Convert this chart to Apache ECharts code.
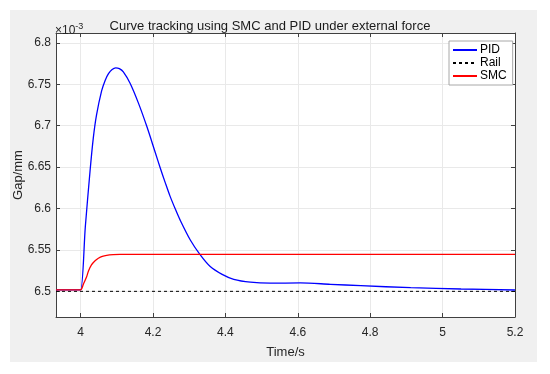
<!DOCTYPE html>
<html>
<head>
<meta charset="utf-8">
<script src="https://cdn.jsdelivr.net/npm/echarts@6/dist/echarts.min.js"></script>
<style>
html,body{margin:0;padding:0;background:#fff;}
#chart{width:550px;height:374px;}
</style>
</head>
<body>
<div id="chart"></div>
<script>
// ---- data ----
const pidTime = [3.932, 3.990, 4.000, 4.013, 4.026, 4.035, 4.044, 4.058, 4.068, 4.077, 4.087, 4.097, 4.107, 4.118, 4.137, 4.160, 4.183, 4.206, 4.220, 4.234, 4.247, 4.261, 4.275, 4.303, 4.329, 4.358, 4.391, 4.423, 4.469, 4.524, 4.607, 4.690, 4.774, 4.912, 5.051, 5.200];
const pidGap  = [6.5018, 6.5018, 6.5018, 6.578, 6.645, 6.685, 6.713, 6.742, 6.755, 6.763, 6.768, 6.770, 6.769, 6.765, 6.751, 6.727, 6.699, 6.668, 6.649, 6.631, 6.615, 6.600, 6.586, 6.562, 6.545, 6.530, 6.5205, 6.5145, 6.511, 6.5098, 6.5102, 6.5085, 6.5068, 6.5044, 6.5028, 6.5016];
const smcTime = [3.932, 3.990, 4.000, 4.008, 4.0166, 4.022, 4.030, 4.040, 4.049, 4.060, 4.072, 4.090, 4.109, 5.200];
const smcGap  = [6.5018, 6.5018, 6.5018, 6.509, 6.5176, 6.525, 6.532, 6.537, 6.540, 6.5423, 6.5435, 6.5443, 6.5447, 6.5447];
const railTime = [3.932, 5.200];
const railGap  = [6.5, 6.5];
const xTicks = [4, 4.2, 4.4, 4.6, 4.8, 5, 5.2];
const yTicks = [6.5, 6.55, 6.6, 6.65, 6.7, 6.75, 6.8];
const seriesNames = ['PID', 'Rail', 'SMC'];
const titleText = 'Curve tracking using SMC and PID under external force';
const xName = 'Time/s';
const yName = 'Gap/mm';

const zip = (a, b) => a.map((v, i) => [v, b[i]]);
const FONT = 'Liberation Sans, Arial, Helvetica, sans-serif';
const AX = '#262626';

const xRange = [3.932, 5.2];
const yRange = [6.469, 6.812];

function xAxisCfg(pos, showLabel) {
  return {
    type: 'value', position: pos, min: xRange[0], max: xRange[1],
    name: showLabel ? xName : '', nameLocation: 'middle', nameGap: 29, nameMoveOverlap: false,
    nameTextStyle: {color: AX, fontSize: 13, fontFamily: FONT},
    axisLine: {show: true, onZero: false, lineStyle: {color: '#404040', width: 1}},
    axisTick: {show: true, inside: true, length: 4, customValues: xTicks, lineStyle: {color: '#404040'}},
    axisLabel: {show: showLabel, customValues: xTicks, margin: 10, color: AX, fontSize: 12, fontFamily: FONT},
    splitLine: {show: showLabel, lineStyle: {color: '#e9e9e9', width: 1}}
  };
}
function yAxisCfg(pos, showLabel) {
  return {
    type: 'value', position: pos, min: yRange[0], max: yRange[1],
    name: showLabel ? yName : '', nameLocation: 'middle', nameGap: 31, nameRotate: 90, nameMoveOverlap: false,
    nameTextStyle: {color: AX, fontSize: 13, fontFamily: FONT},
    axisLine: {show: true, onZero: false, lineStyle: {color: '#404040', width: 1}},
    axisTick: {show: true, inside: true, length: 4, customValues: yTicks, lineStyle: {color: '#404040'}},
    axisLabel: {show: showLabel, customValues: yTicks, margin: 5, color: AX, fontSize: 12, fontFamily: FONT},
    splitLine: {show: showLabel, lineStyle: {color: '#e9e9e9', width: 1}}
  };
}

const chart = echarts.init(document.getElementById('chart'), null, {renderer: 'canvas'});
chart.setOption({
  animation: false,
  backgroundColor: '#ffffff',
  graphic: [
    {type: 'rect', z: -10, shape: {x: 10, y: 10, width: 527, height: 352}, style: {fill: '#f0f0f0'}},
    {type: 'rect', z: -9, shape: {x: 56, y: 33, width: 459, height: 284}, style: {fill: '#ffffff'}}
  ],
  title: [
    {text: titleText, left: 270, top: 20, padding: 0, textAlign: 'center',
     textStyle: {color: '#1a1a1a', fontSize: 13, fontWeight: 'normal', fontFamily: FONT}},
    {text: '×10{sup|-3}', left: 55, top: 22, padding: 0,
     textStyle: {color: AX, fontSize: 12, fontWeight: 'normal', fontFamily: FONT,
       rich: {sup: {fontSize: 9, verticalAlign: 'top', padding: [0, 0, 8, 0], color: AX, fontFamily: FONT}}}}
  ],
  grid: {left: 56, right: 35, top: 33, bottom: 57, show: false, containLabel: false, outerBoundsMode: 'none'},
  legend: {
    orient: 'vertical', left: 449, top: 41, padding: [3, 6, 3, 3], itemGap: 1,
    itemWidth: 24, itemHeight: 14, backgroundColor: '#ffffff', borderColor: '#a8a8a8', borderWidth: 1, borderRadius: 0,
    itemStyle: {opacity: 0},
    textStyle: {color: '#000', fontSize: 12, fontFamily: FONT, padding: [0, 0, 0, -2]},
    data: seriesNames
  },
  xAxis: [xAxisCfg('bottom', true), xAxisCfg('top', false)],
  yAxis: [yAxisCfg('left', true), yAxisCfg('right', false)],
  series: [
    {name: seriesNames[0], type: 'line', data: zip(pidTime, pidGap), showSymbol: false, symbol: 'none',
     smooth: 0.3, lineStyle: {color: '#0000ff', width: 1.3}, itemStyle: {color: '#0000ff'}, z: 3},
    {name: seriesNames[1], type: 'line', data: zip(railTime, railGap), showSymbol: false, symbol: 'none',
     lineStyle: {color: '#000000', width: 1, type: [3, 3]}, itemStyle: {color: '#000'}, z: 2},
    {name: seriesNames[2], type: 'line', data: zip(smcTime, smcGap), showSymbol: false, symbol: 'none',
     smooth: 0.3, lineStyle: {color: '#ff0000', width: 1.3}, itemStyle: {color: '#ff0000'}, z: 4}
  ]
});
</script>
</body>
</html>
